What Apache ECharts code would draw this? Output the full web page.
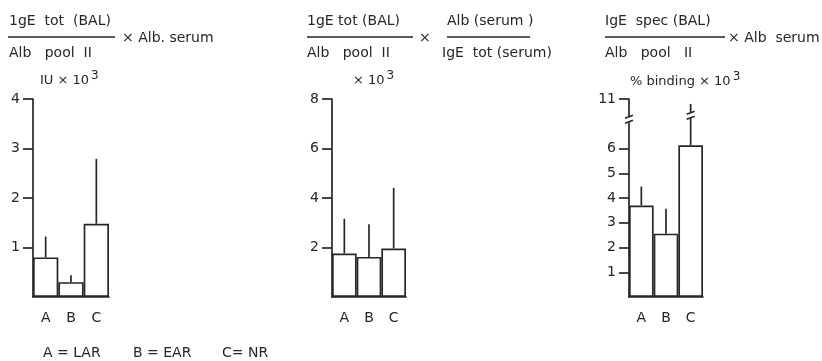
<!DOCTYPE html>
<html>
<head>
<meta charset="utf-8">
<script src="https://cdn.jsdelivr.net/npm/echarts@6/dist/echarts.min.js"></script>
<style>html,body{margin:0;padding:0;background:#fff}#c{width:822px;height:361px}</style>
</head>
<body>
<div id="c"></div>
<script>
// ---- data ----
var categories = ['A', 'B', 'C'];
var p1Mean = [0.80, 0.30, 1.48];
var p1Upper = [1.22, 0.44, 2.79];
var p2Mean = [1.76, 1.62, 1.96];
var p2Upper = [3.16, 2.94, 4.41];
var p3Mean = [3.70, 2.56, 6.13];
var p3Upper = [4.46, 3.57, 10.8];
var p1Ticks = [1, 2, 3, 4];
var p2Ticks = [2, 4, 6, 8];
var p3Ticks = [1, 2, 3, 4, 5, 6, 11];
var p3Break = { start: 7.1, end: 10.1 };

var INK = '#262626';
var FONT = 'DejaVu Sans';
var LW = 1.7;
var chart = echarts.init(document.getElementById('c'), null, { renderer: 'canvas' });

function errData(mean, upper) {
  return mean.map(function (m, i) { return [i, m, upper[i]]; });
}

function errRender(params, api) {
  var i = api.value(0);
  var p0 = api.coord([i, api.value(1)]);
  var p1 = api.coord([i, api.value(2)]);
  return {
    type: 'line',
    shape: { x1: p0[0], y1: p0[1], x2: p1[0], y2: p1[1] },
    style: { stroke: INK, lineWidth: LW }
  };
}

function breakMark(cx, cy) {
  return [
    { type: 'rect', shape: { x: cx - 6, y: cy - 3, width: 12, height: 6 }, style: { fill: '#fff' } },
    { type: 'line', shape: { x1: cx - 4, y1: cy - 1, x2: cx + 4, y2: cy - 4 }, style: { stroke: INK, lineWidth: 1.5 } },
    { type: 'line', shape: { x1: cx - 4, y1: cy + 4, x2: cx + 4, y2: cy + 1 }, style: { stroke: INK, lineWidth: 1.5 } }
  ];
}

// break marks: on the axis (left edge of band 0) and on C error bar
var breakData = [[0, p3Break.start], [2, p3Break.start]];
function breakRender(params, api) {
  var i = api.value(0);
  var p = api.coord([i, api.value(1)]);
  var bw = api.size([1, 0])[0];
  var x = params.dataIndex === 0 ? p[0] - bw / 2 : p[0];
  var dy = params.dataIndex === 0 ? -2 : -6;
  return { type: 'group', children: breakMark(x, p[1] + dy) };
}

function xAxisCfg(gi) {
  return {
    gridIndex: gi, type: 'category', data: categories,
    axisLine: { show: true, lineStyle: { color: INK, width: LW } },
    axisTick: { show: false },
    axisLabel: { color: INK, fontFamily: FONT, fontSize: 14, margin: 14 },
    splitLine: { show: false }
  };
}
function yAxisCfg(gi, max, ticks) {
  return {
    gridIndex: gi, type: 'value', min: 0, max: max,
    axisLine: { show: true, lineStyle: { color: INK, width: LW } },
    axisTick: { show: true, length: 10, customValues: ticks, lineStyle: { color: INK, width: LW } },
    axisLabel: { color: INK, fontFamily: FONT, fontSize: 14, margin: 13, customValues: ticks },
    splitLine: { show: false }
  };
}
function barSeries(gi, data) {
  return {
    type: 'bar', xAxisIndex: gi, yAxisIndex: gi, data: data,
    barCategoryGap: '0%', barGap: '0%',
    itemStyle: { color: '#fff', borderColor: INK, borderWidth: LW },
    silent: true, z: 2
  };
}
function errSeries(gi, mean, upper) {
  return {
    type: 'custom', xAxisIndex: gi, yAxisIndex: gi,
    data: errData(mean, upper), renderItem: errRender, z: 1, silent: true
  };
}

var y3 = yAxisCfg(2, 11, p3Ticks);
y3.breaks = [{ start: p3Break.start, end: p3Break.end, gap: 0 }];
y3.breakArea = { show: false };

function txt(x, y, s, size) {
  return { type: 'text', silent: true, style: { text: s, x: x, y: y, fill: INK, font: (size || 14) + 'px "' + FONT + '"', textAlign: 'left', textVerticalAlign: 'middle' } };
}
function supTxt(x, y, s) {
  return { type: 'text', silent: true, style: { text: s + '{s|3}', x: x, y: y, fill: INK, font: '13px "' + FONT + '"', textVerticalAlign: 'middle', rich: { s: { fontSize: 12, padding: [0, 0, 11, 2], fill: INK, fontFamily: FONT } } } };
}
function hline(x1, x2, y) {
  return { type: 'line', silent: true, shape: { x1: x1, y1: y, x2: x2, y2: y }, style: { stroke: INK, lineWidth: 1.4 } };
}

var graphics = [
  // panel 1 heading
  txt(9, 21, '1gE  tot  (BAL)'),
  hline(8, 115, 37),
  txt(9, 53, 'Alb   pool  II'),
  txt(122, 38, '× Alb. serum'),
  supTxt(40, 81, 'IU × 10'),
  // panel 2 heading
  txt(307, 21, '1gE tot (BAL)'),
  hline(307, 413, 37),
  txt(307, 53, 'Alb   pool  II'),
  txt(419, 38, '×'),
  txt(447, 21, 'Alb (serum )'),
  hline(447, 530, 37),
  txt(442, 53, 'IgE  tot (serum)'),
  supTxt(353, 81, '× 10'),
  // panel 3 heading
  txt(605, 21, 'IgE  spec (BAL)'),
  hline(605, 725, 37),
  txt(605, 53, 'Alb   pool   II'),
  txt(728, 38, '× Alb  serum'),
  supTxt(630, 82, '% binding × 10'),
  // key
  txt(43, 353, 'A = LAR'),
  txt(133, 353, 'B = EAR'),
  txt(222, 353, 'C= NR')
];

var option = {
  animation: false,
  backgroundColor: '#fff',
  grid: [
    { left: 33, top: 99, width: 76, height: 198 },
    { left: 332, top: 99, width: 74, height: 198 },
    { left: 629, top: 99, width: 74, height: 198 }
  ],
  xAxis: [xAxisCfg(0), xAxisCfg(1), xAxisCfg(2)],
  yAxis: [yAxisCfg(0, 4, p1Ticks), yAxisCfg(1, 8, p2Ticks), y3],
  series: [
    barSeries(0, p1Mean), errSeries(0, p1Mean, p1Upper),
    barSeries(1, p2Mean), errSeries(1, p2Mean, p2Upper),
    barSeries(2, p3Mean), errSeries(2, p3Mean, p3Upper),
    { type: 'custom', xAxisIndex: 2, yAxisIndex: 2, data: breakData, renderItem: breakRender, z: 5, silent: true, clip: false }
  ],
  graphic: graphics
};
chart.setOption(option);
</script>
</body>
</html>
